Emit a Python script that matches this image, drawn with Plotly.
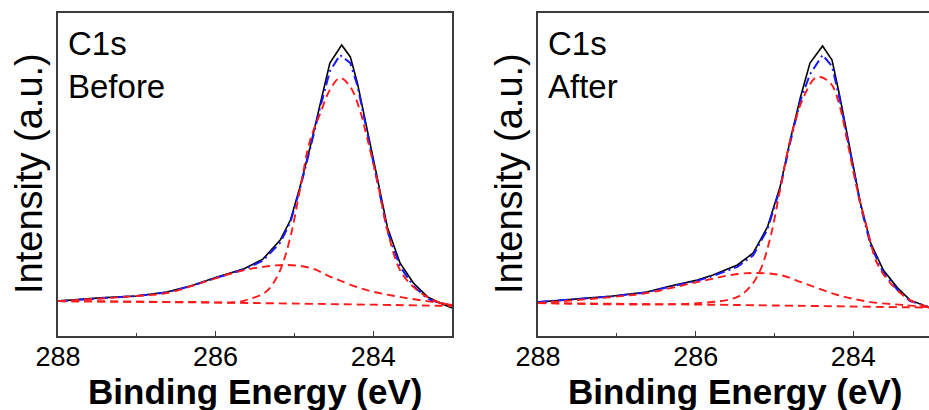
import plotly.graph_objects as go

# ---------------- data (Binding energy in eV, intensity in a.u.) ----------------
# Before
before_raw_x = [288.00, 287.47, 287.00, 286.62, 286.32, 285.98, 285.65, 285.40, 285.18, 285.05,
                284.93, 284.80, 284.67, 284.55, 284.40, 284.29, 284.20, 284.08, 283.95, 283.82,
                283.66, 283.49, 283.31, 283.15, 283.00]
before_raw_y = [10.8, 11.8, 12.4, 13.6, 15.5, 18.3, 20.7, 23.8, 29.7, 35.9,
                46.1, 58.5, 72.1, 84.5, 90.1, 86.4, 78.3, 63.8, 49.2, 33.7,
                22.6, 16.4, 12.1, 10.2, 8.7]
before_fit_x = [288.00, 287.47, 287.00, 286.62, 286.32, 285.98, 285.65, 285.40, 285.18, 285.05,
                284.93, 284.80, 284.67, 284.55, 284.42, 284.29, 284.20, 284.08, 283.95, 283.82,
                283.66, 283.49, 283.31, 283.15, 283.05]
before_fit_y = [10.8, 11.7, 12.4, 13.5, 15.4, 18.1, 20.5, 23.3, 28.9, 35.3,
                45.5, 58.0, 71.0, 82.0, 87.0, 84.5, 77.5, 63.5, 48.5, 32.5,
                21.5, 15.5, 11.5, 10.2, 10.0]
before_bg_x = [288.00, 285.50, 283.00]
before_bg_y = [10.8, 10.2, 9.3]
before_p1_x = [288.00, 286.20, 285.73, 285.56, 285.40, 285.31, 285.18, 285.05, 284.93, 284.80,
               284.67, 284.55, 284.42, 284.29, 284.17, 284.08, 283.95, 283.82, 283.66, 283.49,
               283.24, 283.00]
before_p1_y = [10.8, 10.5, 10.5, 11.5, 13.0, 14.9, 20.4, 30.7, 45.2, 60.7,
               69.0, 76.2, 79.9, 77.1, 70.0, 61.6, 48.3, 32.8, 20.4, 15.2,
               11.1, 9.6]
before_p2_x = [288.00, 287.00, 286.62, 286.11, 285.69, 285.40, 285.12, 284.80, 284.51, 284.08,
               283.66, 283.24, 283.00]
before_p2_y = [10.8, 12.4, 13.3, 17.0, 20.1, 21.4, 22.0, 21.1, 18.0, 14.2,
               12.1, 10.5, 9.6]

# After
after_raw_x = [288.00, 287.47, 287.05, 286.62, 286.32, 285.98, 285.78, 285.47, 285.27, 285.09,
               284.93, 284.80, 284.67, 284.55, 284.39, 284.27, 284.17, 284.04, 283.91, 283.78,
               283.62, 283.44, 283.28, 283.04]
after_raw_y = [10.5, 11.5, 12.4, 13.6, 15.5, 17.3, 18.9, 22.0, 25.7, 33.7,
               46.1, 60.7, 74.0, 84.5, 89.8, 85.4, 74.0, 57.6, 41.2, 28.8,
               20.4, 14.9, 11.1, 8.9]
after_fit_x = [288.00, 287.47, 287.05, 286.62, 286.32, 285.98, 285.78, 285.47, 285.27, 285.09,
               284.93, 284.80, 284.67, 284.55, 284.39, 284.27, 284.17, 284.04, 283.91, 283.78,
               283.62, 283.44, 283.28, 283.06]
after_fit_y = [10.5, 11.4, 12.3, 13.5, 15.3, 17.1, 18.6, 21.4, 25.0, 33.0,
               45.5, 60.0, 73.0, 81.0, 87.0, 83.5, 73.0, 57.0, 40.5, 28.0,
               19.6, 14.3, 10.8, 9.2]
after_bg_x = [288.00, 285.50, 283.04]
after_bg_y = [10.2, 9.6, 8.8]
after_p1_x = [288.00, 285.94, 285.47, 285.31, 285.18, 285.05, 284.93, 284.80, 284.63, 284.46,
              284.29, 284.17, 284.08, 283.95, 283.82, 283.70, 283.53, 283.28, 283.04]
after_p1_y = [10.2, 10.2, 12.1, 15.2, 20.4, 30.7, 45.2, 60.7, 74.0, 80.2,
              78.3, 70.9, 60.7, 45.2, 32.8, 22.6, 16.4, 11.1, 8.9]
after_p2_x = [288.00, 287.05, 286.62, 285.98, 285.47, 285.22, 284.93, 284.63, 284.20, 283.78,
              283.37, 283.04]
after_p2_y = [10.2, 12.1, 13.3, 16.7, 19.2, 19.5, 18.9, 16.4, 12.7, 10.5,
              9.6, 8.9]

panel_labels = [["C1s", "Before"], ["C1s", "After"]]
x_tick_vals = [288, 286, 284]
x_tick_text = ["288", "286", "284"]
x_minor_vals = [287, 285, 283]
x_title = "Binding Energy (eV)"
y_title = "Intensity (a.u.)"

# ---------------- styling ----------------
FONT = "Liberation Sans, Arial, sans-serif"
RED = "#ff1a1a"
BLUE = "#1a1aff"
DASH_RED = "8px,5px"
DASH_BLUE = "10px,4px,2px,4px"

W, H = 929, 410
dom_y = [1 - 336 / H, 1 - 13 / H]
dom_x1 = [58 / W, 452 / W]
dom_x2 = [538 / W, 1.0]

fig = go.Figure()


def add_panel(xa, ya, raw, fit, bg, p1, p2):
    fig.add_trace(go.Scatter(x=raw[0], y=raw[1], mode="lines", xaxis=xa, yaxis=ya,
                             line=dict(color="black", width=1.6), showlegend=False))
    fig.add_trace(go.Scatter(x=fit[0], y=fit[1], mode="lines", xaxis=xa, yaxis=ya,
                             line=dict(color=BLUE, width=2, dash=DASH_BLUE), showlegend=False))
    for comp in (bg, p1, p2):
        fig.add_trace(go.Scatter(x=comp[0], y=comp[1], mode="lines", xaxis=xa, yaxis=ya,
                                 line=dict(color=RED, width=1.9, dash=DASH_RED),
                                 line_shape="spline", showlegend=False))


add_panel("x", "y", (before_raw_x, before_raw_y), (before_fit_x, before_fit_y),
          (before_bg_x, before_bg_y), (before_p1_x, before_p1_y), (before_p2_x, before_p2_y))
add_panel("x2", "y2", (after_raw_x, after_raw_y), (after_fit_x, after_fit_y),
          (after_bg_x, after_bg_y), (after_p1_x, after_p1_y), (after_p2_x, after_p2_y))

AX_COLOR = "#3c3c3c"
xcommon = dict(tickmode="array", tickvals=x_tick_vals, ticktext=x_tick_text,
               ticks="inside", ticklen=5, tickwidth=1.2, tickcolor=AX_COLOR,
               minor=dict(tickmode="array", tickvals=x_minor_vals, ticks="inside",
                          ticklen=3, tickcolor=AX_COLOR, showgrid=False),
               showline=True, linecolor=AX_COLOR, linewidth=1.5, mirror=True,
               showgrid=False, zeroline=False, automargin=False,
               ticklabelstandoff=-4,
               tickfont=dict(family=FONT, size=27, color="black"))
ycommon = dict(range=[0, 100], domain=dom_y, showticklabels=False, ticks="",
               showline=True, linecolor=AX_COLOR, linewidth=1.5, automargin=False,
               showgrid=False, zeroline=False)

fig.update_layout(
    width=W, height=H,
    margin=dict(l=0, r=0, t=0, b=0, pad=0, autoexpand=False),
    paper_bgcolor="white", plot_bgcolor="white",
    xaxis=dict(range=[288, 283], domain=dom_x1, anchor="y", **xcommon),
    yaxis=dict(anchor="x", mirror=True, **ycommon),
    xaxis2=dict(range=[288, 283.04], domain=dom_x2, anchor="y2", **xcommon),
    yaxis2=dict(anchor="x2", mirror=False, **ycommon),
)

annotations = []
for i, (x0, x1) in enumerate([(58, 452), (538, 932)]):
    cx = (x0 + x1) / 2
    # x-axis title
    annotations.append(dict(text="<b>" + x_title + "</b>", xref="paper", yref="paper",
                            x=cx / W, y=1 - 391 / H, xanchor="center", yanchor="middle",
                            showarrow=False, font=dict(family=FONT, size=35, color="black")))
    # y-axis title
    annotations.append(dict(text=y_title, xref="paper", yref="paper", textangle=-90,
                            x=(x0 - 29) / W, y=1 - 174 / H, xanchor="center", yanchor="middle",
                            showarrow=False, font=dict(family=FONT, size=38, color="black")))
    # panel labels
    for j, lab in enumerate(panel_labels[i]):
        annotations.append(dict(text=lab, xref="paper", yref="paper",
                                x=(x0 + 8) / W, y=1 - (44 + 43 * j) / H,
                                xanchor="left", yanchor="middle", showarrow=False,
                                font=dict(family=FONT, size=33, color="black")))
fig.update_layout(annotations=annotations)

fig.write_html("out.html")
